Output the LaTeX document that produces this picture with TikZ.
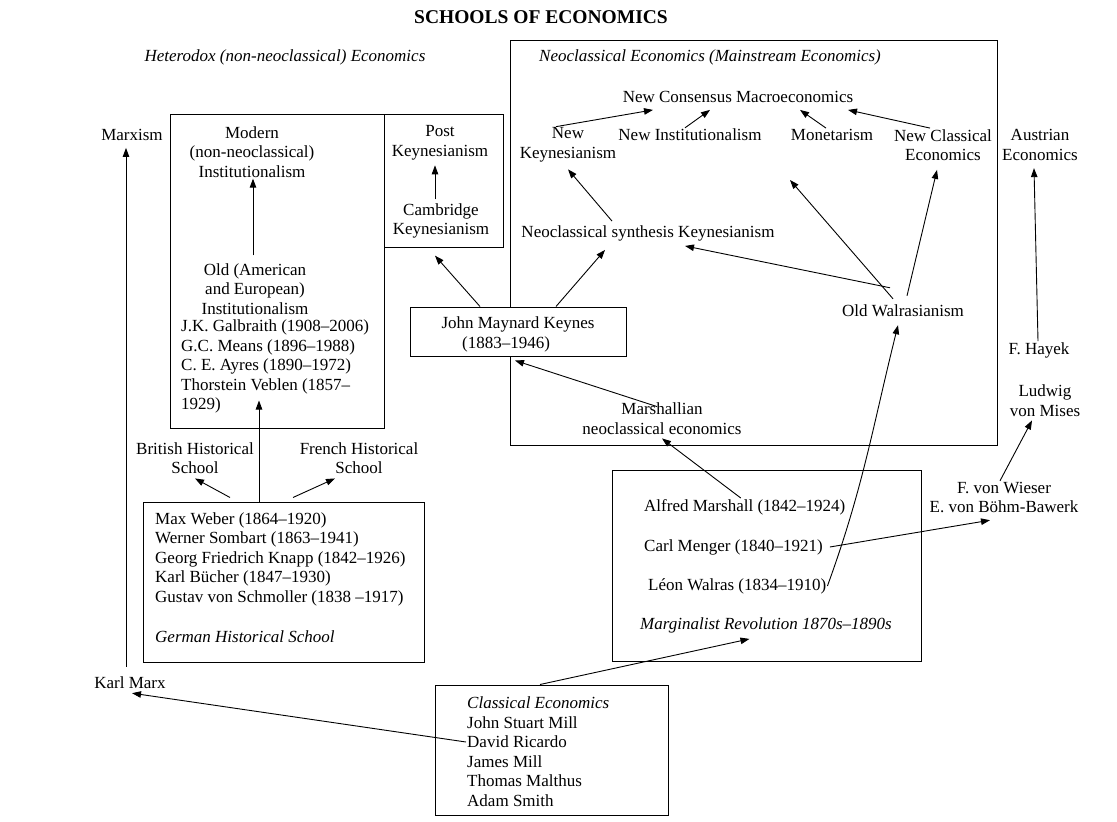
\documentclass[tikz,border=0pt]{standalone}
\usepackage{fontspec}
\setmainfont{Liberation Serif}
\usetikzlibrary{arrows.meta}

\tikzset{
  lbl/.style={align=center, inner sep=1pt, yshift=-2pt},
  lst/.style={align=left, inner sep=1pt, anchor=west, yshift=-2pt},
  frame/.style={draw, line width=1pt, inner sep=0pt},
  arr/.style={-{Triangle[length=9pt,width=6.5pt]}, line width=0.9pt}
}

\begin{document}
\begin{tikzpicture}[x=1pt, y=-1pt, font=\fontsize{17}{19.5}\selectfont]
\useasboundingbox (0,0) rectangle (1117,822);

% Title and headings
\node[lbl, font=\fontsize{19.5}{22}\selectfont\bfseries] (title) at (541,15) {SCHOOLS OF ECONOMICS};
\node[lbl, font=\fontsize{17}{19.5}\selectfont\itshape] (hetero) at (285,55) {Heterodox (non-neoclassical) Economics};

% Frames
\node[frame, minimum width=487pt, minimum height=405pt] (neobox) at (753.5,242.5) {};
\node[frame, minimum width=214pt, minimum height=314pt] (instbox) at (277,271) {};
\node[frame, minimum width=119pt, minimum height=133pt] (pkbox) at (443.5,180.5) {};
\node[frame, minimum width=281pt, minimum height=160pt] (germanbox) at (283.5,582) {};
\node[frame, minimum width=309pt, minimum height=191pt] (margbox) at (766.5,565.5) {};
\node[frame, minimum width=233pt, minimum height=130pt] (classbox) at (551.5,750) {};
\node[frame, fill=white, minimum width=216pt, minimum height=49pt, align=center] (keynes) at (518,331.5)
  {\rule{0pt}{17.5pt}John Maynard Keynes\\\hspace*{-24pt}(1883--1946)};

% Neoclassical economics
\node[lbl, font=\fontsize{17}{19.5}\selectfont\itshape] (neotitle) at (710,55) {Neoclassical Economics (Mainstream Economics)};
\node[lbl] (ncm) at (738,95) {New Consensus Macroeconomics};
\node[lbl] (nk) at (568,143) {New\\Keynesianism};
\node[lbl] (ni) at (690,133) {New Institutionalism};
\node[lbl] (mon) at (832,133) {Monetarism};
\node[lbl] (nce) at (943,143) {New Classical\\Economics};
\node[lbl] (nsk) at (648,231) {Neoclassical synthesis Keynesianism};
\node[lbl] (oldwal) at (903,309) {Old Walrasianism};
\node[lbl] (marshallian) at (662,416.5) {Marshallian\\neoclassical economics};
\coordinate (wgap) at (790,180);

% Post Keynesianism
\node[lbl] (pk) at (440,141) {Post\\Keynesianism};
\node[lbl] (ck) at (441,219) {Cambridge\\Keynesianism};

% Institutionalism
\node[lbl] (modinst) at (252,150) {Modern\\(non-neoclassical)\\Institutionalism};
\node[lbl] (oldinst) at (255,287) {Old (American\\and European)\\Institutionalism};
\node[lst] (instlist) at (180,364.5) {J.K. Galbraith (1908--2006)\\G.C. Means (1896--1988)\\C. E. Ayres (1890--1972)\\Thorstein Veblen (1857--\\1929)};

% Marxism
\node[lbl] (marxism) at (132,133) {Marxism};
\node[lbl] (karlmarx) at (130,681) {Karl Marx};

% Historical schools
\node[lbl] (british) at (195,456) {British Historical\\School};
\node[lbl] (french) at (359,456) {French Historical\\School};
\node[lst] (germanlist) at (154,557) {Max Weber (1864--1920)\\Werner Sombart (1863--1941)\\Georg Friedrich Knapp (1842--1926)\\Karl Bücher (1847--1930)\\Gustav von Schmoller (1838 --1917)};
\node[lst, font=\fontsize{17}{19.5}\selectfont\itshape] (german) at (154,635) {German Historical School};

% Marginalist revolution
\node[lst] (marshall) at (643,505) {Alfred Marshall (1842--1924)};
\node[lst] (menger) at (643,545) {Carl Menger (1840--1921)};
\node[lst] (walras) at (647,584) {Léon Walras (1834--1910)};
\node[lst, font=\fontsize{17}{19.5}\selectfont\itshape] (margrev) at (639,623) {Marginalist Revolution 1870s--1890s};

% Austrian economics
\node[lbl] (wieser) at (1004,495.5) {F. von Wieser\\E. von Böhm-Bawerk};
\node[lbl] (mises) at (1045,398.5) {Ludwig\\von Mises};
\node[lbl] (hayek) at (1039,348) {F. Hayek};
\node[lbl] (austrian) at (1040,143) {Austrian\\Economics};

% Classical economics
\node[lst] (classlist) at (466,749.5) {\textit{Classical Economics}\\John Stuart Mill\\David Ricardo\\James Mill\\Thomas Malthus\\Adam Smith};

% Arrows into New Consensus Macroeconomics
\foreach \src/\sx/\tx in {nk/-12/-85, ni/-5/-28, mon/-6/62, nce/-13/110}
  \draw[arr] ([xshift=\sx pt]\src.north) -- ([xshift=\tx pt,yshift=-6pt]ncm.south);

% Neoclassical arrows
\draw[arr] ([xshift=-36pt,yshift=3pt]nsk.north) -- ([yshift=-6pt]nk.south);
\draw[arr] ([xshift=-10pt,yshift=5pt]oldwal.north) -- (wgap);
\draw[arr] ([xshift=4pt,yshift=8pt]oldwal.north) -- ([xshift=-6pt,yshift=-8pt]nce.south);
\draw[arr] ([xshift=-13pt,yshift=16pt]oldwal.north) -- ([xshift=37pt,yshift=-4pt]nsk.south);
\draw[arr] ([xshift=-38pt]keynes.north) -- ([xshift=-6pt,yshift=-16pt]ck.south);
\draw[arr] ([xshift=38pt]keynes.north) -- ([xshift=-43pt,yshift=-8pt]nsk.south);
\draw[arr] ([xshift=-6pt,yshift=3pt]ck.north) -- ([xshift=-5pt,yshift=-4pt]pk.south);
\draw[arr] ([xshift=-4pt]marshall.north) -- ([yshift=-3pt]marshallian.south);
\draw[arr] ([xshift=-5pt,yshift=-5pt]marshallian.north) -- ([xshift=-3pt,yshift=-4pt]keynes.south);
\draw[arr] (walras.east) to[out=70,in=-104] ([xshift=-5pt,yshift=-7pt]oldwal.south);

% Heterodox arrows
\draw[arr] ([xshift=-2pt,yshift=7pt]oldinst.north) -- ([xshift=1pt]modinst.south);
\draw[arr] ([xshift=-4pt,yshift=9pt]karlmarx.north) -- ([xshift=-6pt,yshift=-6pt]marxism.south);
\draw[arr] ([xshift=-24.5pt]germanbox.north) -- ([xshift=-18pt,yshift=28pt]instbox.south);
\draw[arr] ([xshift=-53.5pt,yshift=4pt]germanbox.north) -- ([yshift=-3.5pt]british.south);
\draw[arr] ([xshift=9.5pt,yshift=4pt]germanbox.north) -- ([xshift=-24pt,yshift=-3.5pt]french.south);

% Austrian arrows
\draw[arr] ([xshift=6pt]menger.east) -- ([xshift=-14pt,yshift=-6pt]wieser.south);
\draw[arr] ([xshift=-4pt]wieser.north) -- ([xshift=-13pt,yshift=-3pt]mises.south);
\draw[arr] ([xshift=-1pt]hayek.north) -- ([xshift=-6pt,yshift=-6.5pt]austrian.south);

% Classical arrows
\draw[arr] ([xshift=-11.5pt]classbox.north) -- ([xshift=-16.5pt,yshift=-5pt]margrev.south);
\draw[arr] ([yshift=9.5pt]classlist.west) -- ([xshift=2pt,yshift=-3pt]karlmarx.south);

\end{tikzpicture}
\end{document}
